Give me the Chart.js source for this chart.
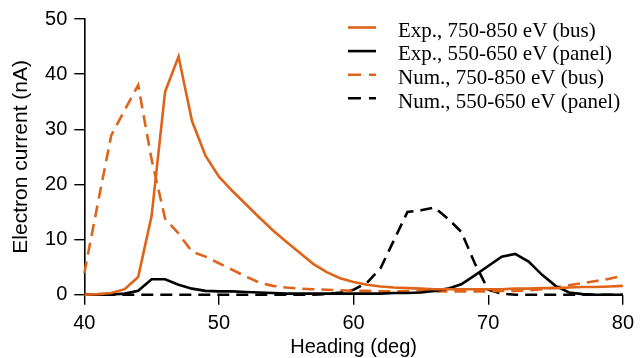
<!DOCTYPE html>
<html>
<head>
<meta charset="utf-8">
<script src="https://cdn.jsdelivr.net/npm/chart.js@4.4.1/dist/chart.umd.min.js"></script>
<style>
  html, body { margin: 0; padding: 0; background: #fff; }
  #wrap { width: 641px; height: 358px; position: relative; }
</style>
</head>
<body>
<div id="wrap"><canvas id="c" width="641" height="358"></canvas></div>
<script>
// Heading (deg)
const headings = [40,41,42,43,44,45,46,47,48,49,50,51,52,53,54,55,56,57,58,59,60,
                  61,62,63,64,65,66,67,68,69,70,71,72,73,74,75,76,77,78,79,80];
// Experimental, 750-850 eV (bus)
const expBus = [0,0.1,0.3,1.0,3.2,14.3,36.8,43.2,31.5,25.2,21.4,18.8,16.4,14.0,11.7,9.6,7.6,5.6,4.1,3.0,2.3,
                1.8,1.5,1.3,1.2,1.1,1.0,1.0,1.0,1.0,1.0,1.0,1.1,1.1,1.2,1.2,1.3,1.4,1.4,1.5,1.6];
// Experimental, 550-650 eV (panel)
const expPanel = [0,0,0.05,0.2,0.7,2.8,2.8,1.8,1.1,0.7,0.6,0.6,0.5,0.4,0.3,0.2,0.2,0.2,0.2,0.2,0.2,
                  0.2,0.2,0.3,0.3,0.4,0.7,1.1,1.9,3.5,5.2,6.9,7.4,6.0,3.6,1.6,0.4,0.1,0,0,0];
// Numerical, 750-850 eV (bus)
const numBus = [3.9,16.5,28.9,33.5,38.0,24.5,13.8,11.1,7.8,6.9,5.7,4.5,3.3,2.2,1.6,1.3,1.1,1.0,0.9,0.8,0.7,
                0.7,0.6,0.6,0.6,0.6,0.6,0.6,0.6,0.6,0.6,0.7,0.7,0.8,1.0,1.3,1.7,2.1,2.5,2.9,3.4];
// Numerical, 550-650 eV (panel)
const numPanel = [0,0,0,0,0,0,0,0,0,0,0,0,0,0,0,0,0,0,0.1,0.4,0.9,
                  2.2,4.8,9.9,15.0,15.3,15.8,13.8,11.4,5.7,0.9,0.2,0,0,0,0,0,0,0,0,0];

const seriesLabels = ["Exp., 750-850 eV (bus)", "Exp., 550-650 eV (panel)",
                      "Num., 750-850 eV (bus)", "Num., 550-650 eV (panel)"];
const xTicks = [40, 50, 60, 70, 80];
const yTicks = [0, 10, 20, 30, 40, 50];

const ORANGE = '#df6318';
const BLACK = '#000000';
const DASH = [12, 7];

function pts(vals) { return headings.map((h, i) => ({ x: h, y: vals[i] })); }

const seriesStyle = [
  { color: ORANGE, dash: [] },
  { color: BLACK, dash: [] },
  { color: ORANGE, dash: DASH },
  { color: BLACK, dash: DASH }
];
const seriesData = [expBus, expPanel, numBus, numPanel];

const datasets = seriesData.map((vals, i) => ({
  label: seriesLabels[i],
  data: pts(vals),
  borderColor: seriesStyle[i].color,
  borderDash: seriesStyle[i].dash,
  borderWidth: 2.6,
  pointRadius: 0,
  tension: 0,
  fill: false,
  clip: 6
}));

const legendPlugin = {
  id: 'customLegend',
  afterDraw(chart) {
    const ctx = chart.ctx;
    ctx.save();
    const x0 = 348, x1 = 376, tx = 398, yLine = 27.5, yText = 36.7, dy = 23.6;
    ctx.font = '21px "Liberation Serif", "Times New Roman", serif';
    ctx.textBaseline = 'alphabetic';
    ctx.textAlign = 'left';
    seriesLabels.forEach((lab, i) => {
      ctx.strokeStyle = seriesStyle[i].color;
      ctx.lineWidth = 2.6;
      ctx.setLineDash(seriesStyle[i].dash.length ? [13, 8] : []);
      ctx.beginPath();
      ctx.moveTo(x0, yLine + i * dy);
      ctx.lineTo(x1, yLine + i * dy);
      ctx.stroke();
      ctx.setLineDash([]);
      ctx.fillStyle = '#000';
      ctx.fillText(lab, tx, yText + i * dy);
    });
    ctx.restore();
  }
};

new Chart(document.getElementById('c'), {
  type: 'line',
  data: { datasets },
  plugins: [legendPlugin],
  options: {
    responsive: false,
    animation: false,
    devicePixelRatio: 1,
    layout: { padding: { top: 19, right: 13, left: 0, bottom: 0 } },
    plugins: { legend: { display: false }, tooltip: { enabled: false } },
    scales: {
      x: {
        type: 'linear',
        min: 40, max: 80,
        afterBuildTicks: (s) => { s.ticks = xTicks.map(v => ({ value: v })); },
        grid: { drawOnChartArea: false, drawTicks: true, tickLength: 10, color: '#000', lineWidth: 1.4 },
        border: { display: false },
        ticks: { color: '#000', padding: 7, font: { family: '"Liberation Sans", Arial, sans-serif', size: 20 } },
        title: { display: true, text: 'Heading (deg)', color: '#000', padding: { top: 0, bottom: -1 },
                 font: { family: '"Liberation Sans", Arial, sans-serif', size: 20 } },
        afterFit: (s) => { s.height = 63.3; }
      },
      y: {
        min: 0, max: 50,
        afterBuildTicks: (s) => { s.ticks = yTicks.map(v => ({ value: v })); },
        grid: { drawOnChartArea: false, drawTicks: true, tickLength: 10, color: '#000', lineWidth: 1.4 },
        border: { display: true, color: '#000', width: 1.6 },
        ticks: { color: '#000', padding: 7, font: { family: '"Liberation Sans", Arial, sans-serif', size: 20 } },
        title: { display: true, text: 'Electron current (nA)', color: '#000', padding: { top: 9, bottom: 0 },
                 font: { family: '"Liberation Sans", Arial, sans-serif', size: 21 } },
        afterFit: (s) => { s.width = 84.3; }
      }
    }
  }
});
</script>
</body>
</html>
